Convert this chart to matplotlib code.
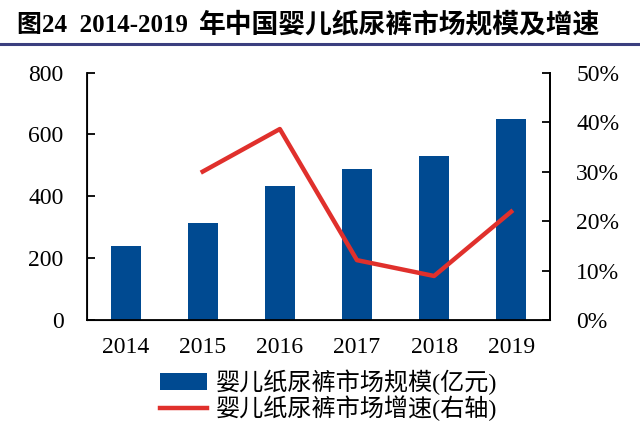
import matplotlib
matplotlib.use("Agg")
import matplotlib.pyplot as plt
from matplotlib.lines import Line2D
from matplotlib.patches import Patch
from matplotlib.ticker import FuncFormatter

plt.rcParams['font.family'] = ['Liberation Serif', 'Noto Sans CJK SC', 'DejaVu Sans']

years = ['2014', '2015', '2016', '2017', '2018', '2019']
market_size = [240, 313, 432, 487, 531, 650]
growth_years = ['2015', '2016', '2017', '2018', '2019']
growth_rate = [30.0, 38.6, 12.1, 8.9, 21.9]

title_num = '图24  2014-2019'
title_cjk = '年中国婴儿纸尿裤市场规模及增速'
bar_label = '婴儿纸尿裤市场规模(亿元)'
line_label = '婴儿纸尿裤市场增速(右轴)'

bar_color = '#004a91'
line_color = '#e0302c'

fig = plt.figure(figsize=(6.4, 4.28), dpi=100)
ax = fig.add_axes([0.136, 0.2523, 0.723, 0.578])
x = list(range(len(years)))
ax.bar(x, market_size, width=0.39, color=bar_color, zorder=2)
ax.set_xlim(-0.5, len(years) - 0.5)
ax.set_ylim(0, 800)
ax.set_yticks([0, 200, 400, 600, 800])
ax.set_xticks(x)
ax.set_xticklabels(years)
ax.spines['top'].set_visible(False)
for s in ['left', 'right', 'bottom']:
    ax.spines[s].set_linewidth(1.3)
ax.tick_params(axis='y', direction='in', length=6, width=1.3, labelsize=17, pad=17)
ax.tick_params(axis='x', length=0, labelsize=17, pad=12)

ax2 = ax.twinx()
gx = [years.index(y) for y in growth_years]
ax2.plot(gx, growth_rate, color=line_color, linewidth=3.2, zorder=3)
ax2.set_ylim(0, 50)
ax2.set_yticks([0, 10, 20, 30, 40, 50])
ax2.yaxis.set_major_formatter(FuncFormatter(lambda v, p: f'{int(v)}%'))
ax2.spines['top'].set_visible(False)
ax2.spines['right'].set_linewidth(1.3)
ax2.tick_params(axis='y', direction='in', length=6, width=1.3, labelsize=17, pad=19)

fig.text(0.027, 0.94, title_num, fontsize=18, fontweight='bold', va='center', ha='left')
fig.text(0.311, 0.94, title_cjk, fontsize=19.3, fontweight='bold', va='center', ha='left')
fig.add_artist(Line2D([0, 1], [0.897, 0.897], color='#3b3f7f', linewidth=2.2, transform=fig.transFigure))

handles = [Patch(facecolor=bar_color, edgecolor='none'),
           Line2D([0], [0], color=line_color, linewidth=3.2)]
fig.legend(handles, [bar_label, line_label], loc='upper left', bbox_to_anchor=(0.25, 0.136),
           frameon=False, fontsize=17.4, handlelength=1.95, handletextpad=0.35,
           labelspacing=0.0, borderaxespad=0, borderpad=0)

fig.savefig('out.png', dpi=100)
